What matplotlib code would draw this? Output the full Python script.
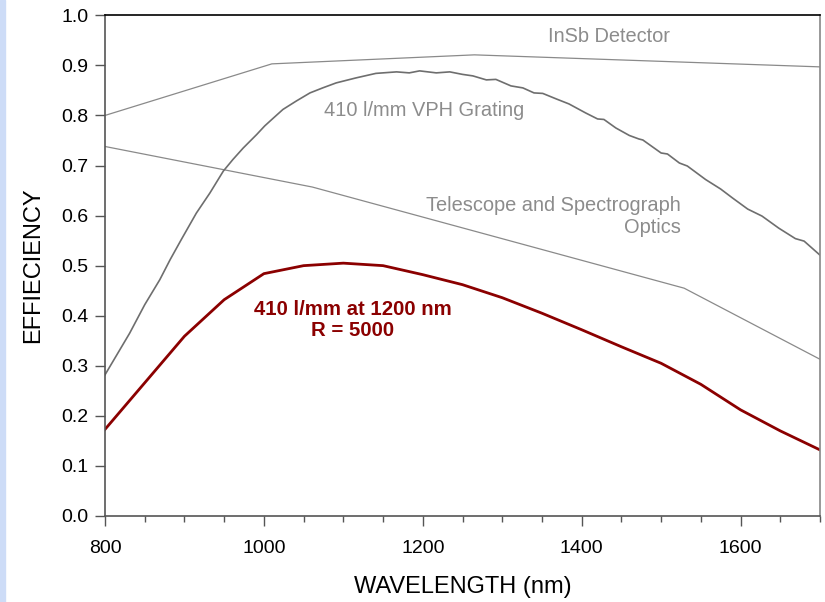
import matplotlib
matplotlib.use("Agg")
import matplotlib.pyplot as plt
from matplotlib.patches import Rectangle
from matplotlib.ticker import MultipleLocator

plt.rcParams['font.family'] = ['Liberation Sans', 'DejaVu Sans']

# InSb detector
insb_x = [800, 1010, 1265, 1700]
insb_y = [0.800, 0.903, 0.921, 0.897]

# Telescope and spectrograph optics
opt_x = [800, 1061, 1529, 1700]
opt_y = [0.738, 0.657, 0.455, 0.313]

# 410 l/mm VPH grating
vph_x = [800, 831, 850, 869, 882, 896, 915, 932, 949, 961, 974, 991, 1001, 1010,
         1024, 1041, 1058, 1074, 1091, 1116, 1141, 1167, 1183, 1196, 1217, 1234,
         1250, 1263, 1280, 1292, 1311, 1326, 1340, 1351, 1368, 1384, 1405, 1420,
         1428, 1443, 1460, 1472, 1477, 1500, 1508, 1523, 1533, 1556, 1575, 1590,
         1609, 1627, 1648, 1669, 1680, 1700]
vph_y = [0.282, 0.365, 0.422, 0.472, 0.512, 0.552, 0.605, 0.645, 0.689, 0.712, 0.735,
         0.762, 0.779, 0.792, 0.812, 0.829, 0.845, 0.855, 0.865, 0.875, 0.884, 0.887,
         0.885, 0.889, 0.885, 0.887, 0.882, 0.879, 0.871, 0.872, 0.859, 0.855, 0.845,
         0.844, 0.833, 0.823, 0.805, 0.793, 0.792, 0.775, 0.760, 0.753, 0.751, 0.725,
         0.723, 0.705, 0.699, 0.672, 0.653, 0.635, 0.613, 0.599, 0.575, 0.554, 0.549,
         0.521]

# Total efficiency (410 l/mm at 1200 nm, R = 5000)
tot_x = [800, 850, 900, 950, 1000, 1050, 1100, 1150, 1200, 1250, 1300, 1350, 1400,
         1450, 1500, 1550, 1600, 1650, 1700]
tot_y = [0.173, 0.266, 0.359, 0.432, 0.484, 0.500, 0.505, 0.500, 0.482, 0.462, 0.436,
         0.405, 0.372, 0.338, 0.305, 0.263, 0.212, 0.170, 0.132]

x_ticks = [800, 1000, 1200, 1400, 1600]
y_ticks = [0.0, 0.1, 0.2, 0.3, 0.4, 0.5, 0.6, 0.7, 0.8, 0.9, 1.0]

fig = plt.figure(figsize=(8.25, 6.02), dpi=100)
fig.patches.append(Rectangle((0, 0), 5 / 825, 1, transform=fig.transFigure,
                             color='#cddcf7', zorder=0))
ax = fig.add_axes([105 / 825, 86 / 602, 715 / 825, 500.7 / 602])

ax.plot(insb_x, insb_y, color='#8a8a8a', lw=0.9)
ax.plot(opt_x, opt_y, color='#8a8a8a', lw=0.9)
ax.plot(vph_x, vph_y, color='#6e6e6e', lw=1.2)
ax.plot(tot_x, tot_y, color='#8b0000', lw=2.0)

ax.set_xlim(800, 1700)
ax.set_ylim(0, 1.0)
ax.set_xticks(x_ticks)
ax.xaxis.set_minor_locator(MultipleLocator(50))
ax.set_yticks(y_ticks)
ax.set_yticklabels([f"{v:.1f}" for v in y_ticks])
ax.tick_params(axis='both', which='major', direction='out', length=7, width=1.0,
               color='#555555', labelsize=14)
ax.tick_params(axis='x', which='major', pad=10)
ax.tick_params(axis='y', which='major', pad=5)
ax.tick_params(axis='x', which='minor', direction='out', length=4, width=1.0,
               color='#555555')

for side in ['left', 'bottom']:
    ax.spines[side].set_color('#555555')
    ax.spines[side].set_linewidth(1.2)
ax.spines['top'].set_color('black')
ax.spines['top'].set_linewidth(1.2)
ax.spines['right'].set_color('#888888')
ax.spines['right'].set_linewidth(1.2)

ax.set_xlabel('WAVELENGTH (nm)', fontsize=17, labelpad=14)
ax.set_ylabel('EFFIECIENCY', fontsize=17, labelpad=12)

gray = '#8c8c8c'
ax.text(1435, 0.958, 'InSb Detector', color=gray, fontsize=14.4, ha='center', va='center')
ax.text(1076, 0.81, '410 l/mm VPH Grating', color=gray, fontsize=14.4, ha='left', va='center')
ax.text(1525, 0.598, 'Telescope and Spectrograph\nOptics', color=gray, fontsize=14.4,
        ha='right', va='center', multialignment='right', linespacing=1.15)
ax.text(1112, 0.392, '410 l/mm at 1200 nm\nR = 5000', color='#8b0000', fontsize=14.7,
        fontweight='bold', ha='center', va='center', linespacing=1.12)

fig.savefig('out.png', dpi=100)
